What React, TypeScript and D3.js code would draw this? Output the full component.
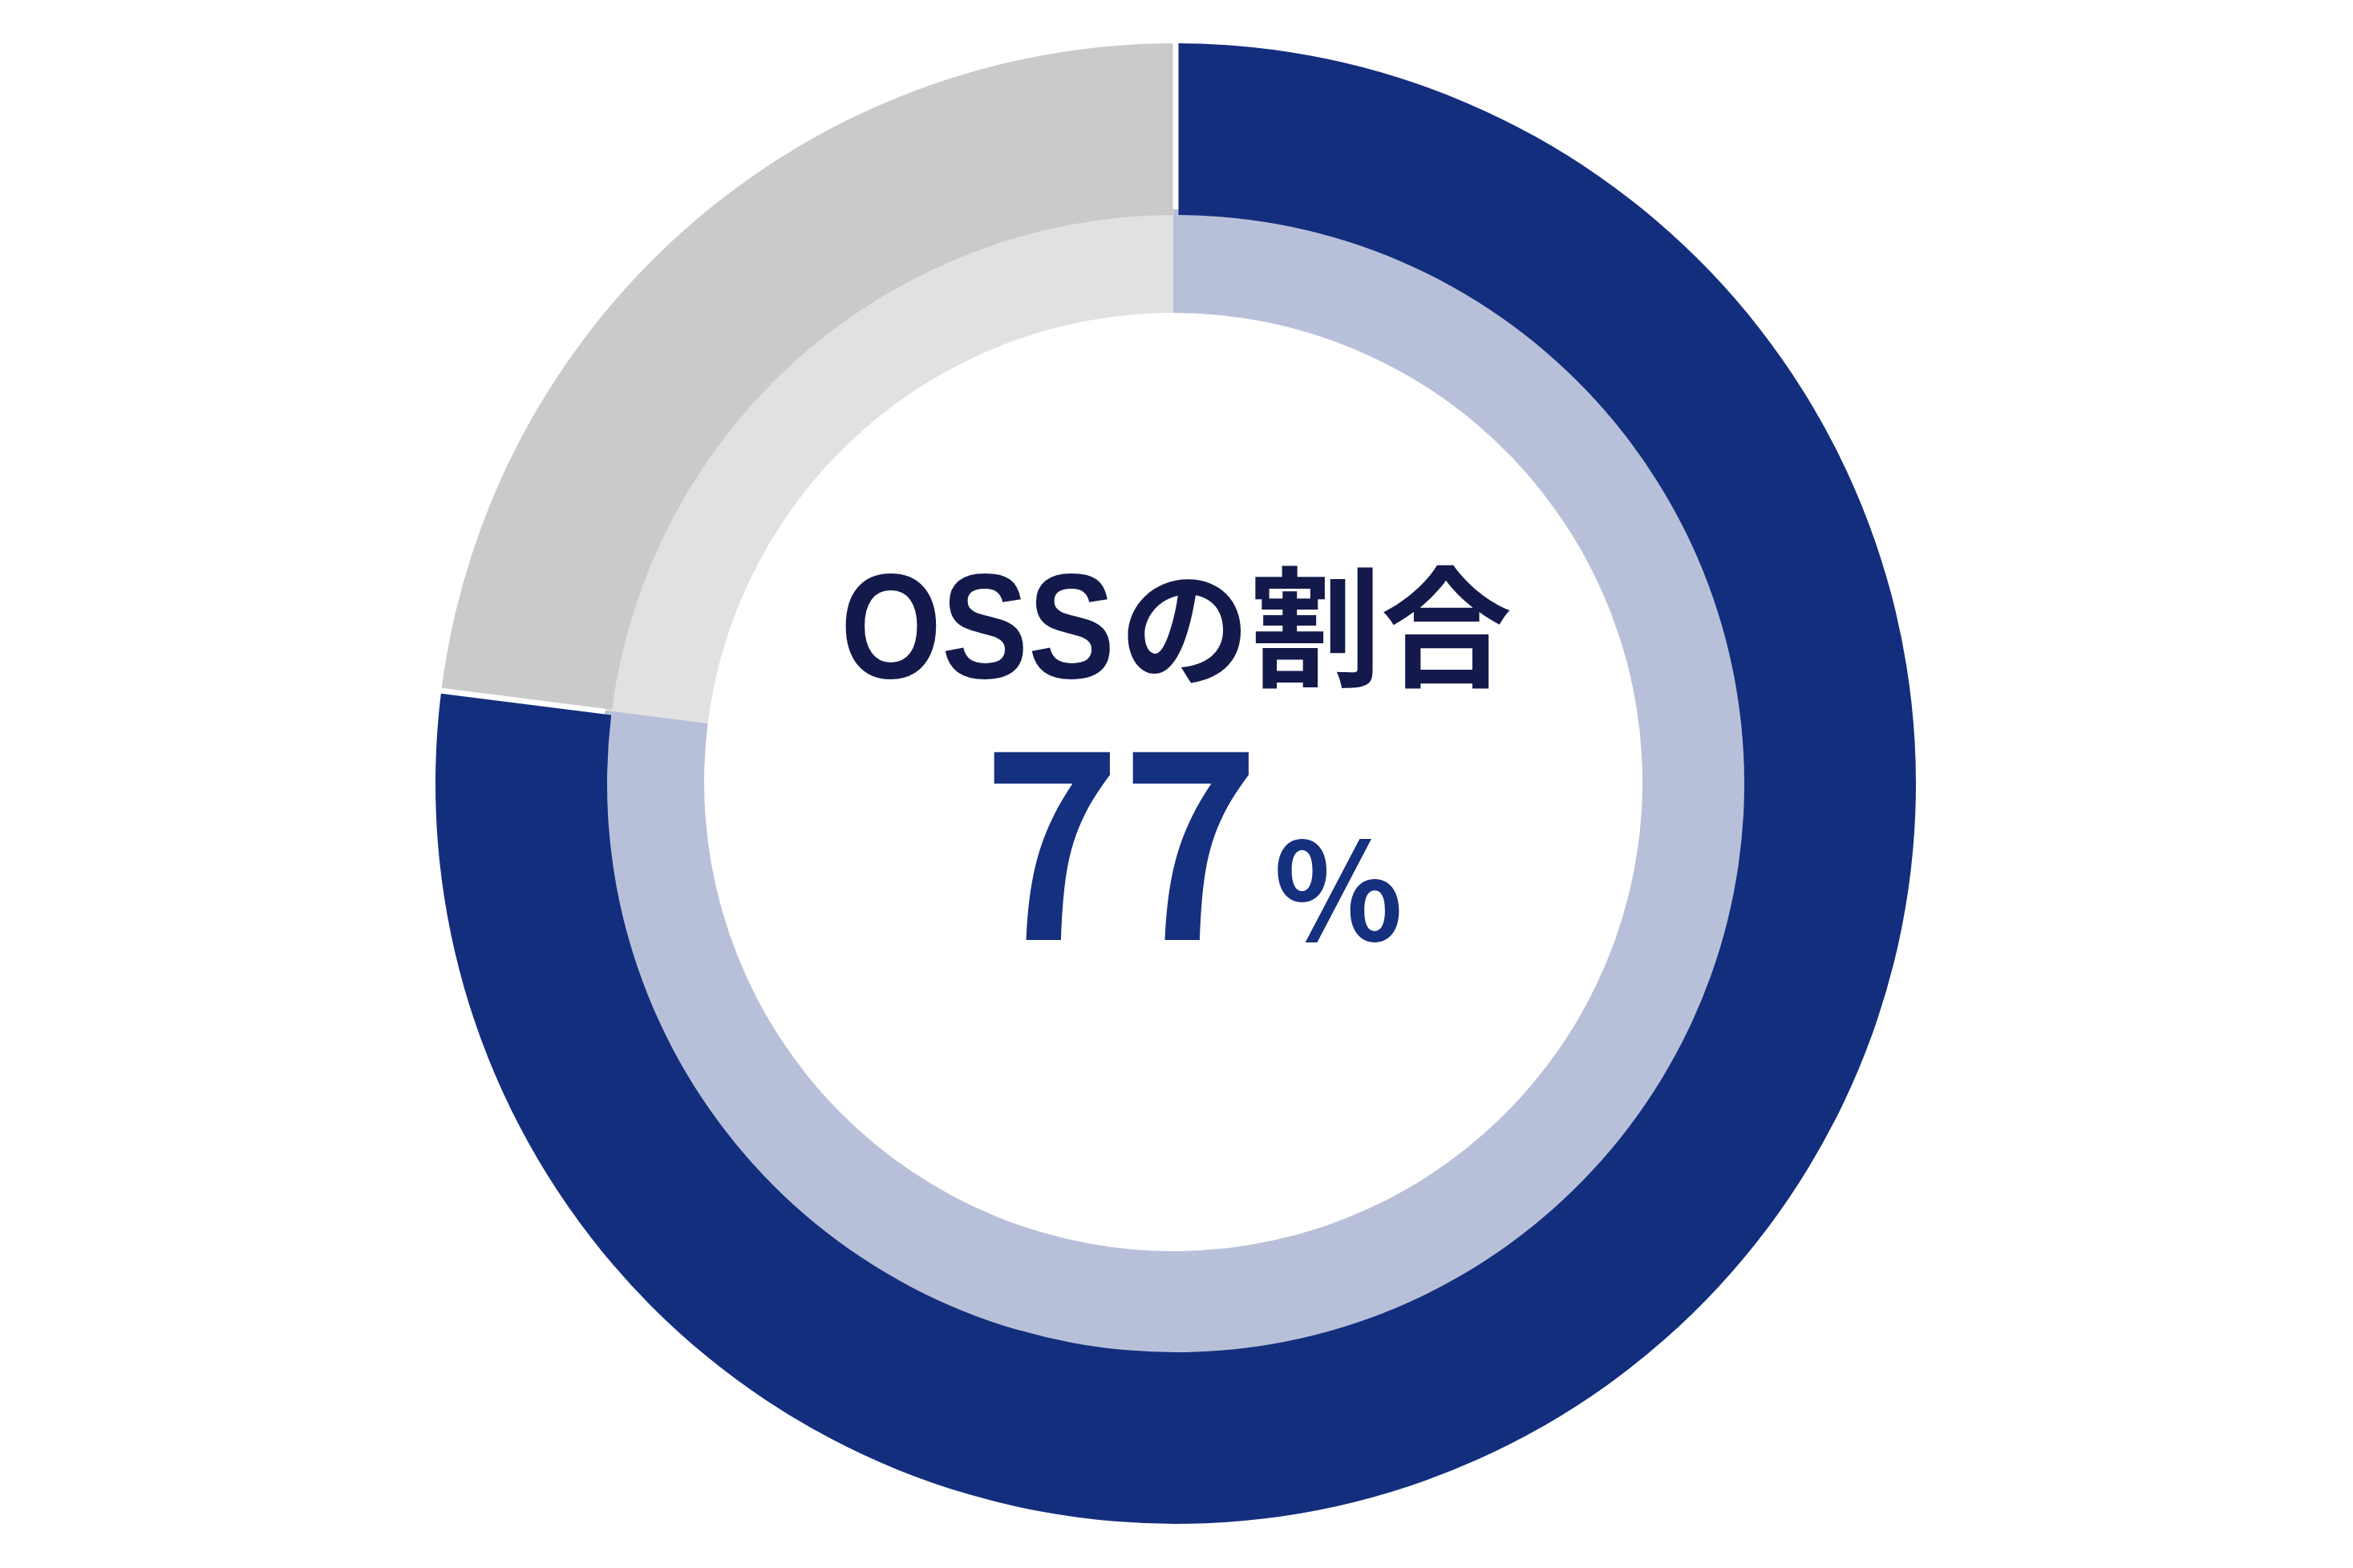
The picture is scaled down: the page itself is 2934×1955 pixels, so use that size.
import React, { useEffect, useRef } from "react";
import * as d3 from "d3";

// OSS share, two rings showing the same split
const categories = ["OSS", "その他"];
const shares = [77, 23];

const outerColors = ["#142e7e", "#cacaca"];
const innerColors = ["#b8c0d9", "#e1e1e1"];

const titleLatin = "OSS";
const titleKana = "の割合";
const valueText = "77";
const unitText = "%";

const App: React.FC = () => {
  const svgRef = useRef<SVGSVGElement>(null);

  useEffect(() => {
    document.body.style.margin = "0";
    if (!svgRef.current) return;

    const width = 2934;
    const height = 1955;

    const svg = d3.select(svgRef.current);
    svg.selectAll("*").remove();
    svg.attr("viewBox", `0 0 ${width} ${height}`);

    const data = categories.map((c, i) => ({ group: c, count: shares[i] }));

    const pie = d3
      .pie<{ group: string; count: number }>()
      .value((d) => d.count)
      .sort(null);

    const arcs = pie(data);

    const color = (palette: string[]) =>
      d3.scaleOrdinal<string, string>().domain(categories).range(palette);

    // inner (pale) ring, drawn first, its hole sits a little up-left
    const innerArc = d3
      .arc<d3.PieArcDatum<{ group: string; count: number }>>()
      .innerRadius(585)
      .outerRadius(714);

    svg
      .append("g")
      .attr("transform", "translate(1463, 975)")
      .selectAll("path")
      .data(arcs)
      .join("path")
      .attr("d", innerArc)
      .attr("fill", (d) => color(innerColors)(d.data.group));

    // outer ring, thin white gap between slices
    const outerArc = d3
      .arc<d3.PieArcDatum<{ group: string; count: number }>>()
      .innerRadius(709)
      .outerRadius(923)
      .padRadius(923)
      .padAngle(7 / 923);

    svg
      .append("g")
      .attr("transform", "translate(1466, 977)")
      .selectAll("path")
      .data(arcs)
      .join("path")
      .attr("d", outerArc)
      .attr("fill", (d) => color(outerColors)(d.data.group));

    // centre labels
    const latin = "'Liberation Sans', Arial, sans-serif";
    const cjk = "'Noto Sans CJK JP', 'Noto Sans', sans-serif";

    const title = svg
      .append("text")
      .attr("font-weight", 700)
      .attr("fill", "#131a4b");

    title
      .append("tspan")
      .attr("x", 1048)
      .attr("y", 845)
      .attr("font-family", latin)
      .attr("font-size", 186)
      .attr("textLength", 342)
      .attr("lengthAdjust", "spacingAndGlyphs")
      .text(titleLatin);

    title
      .append("tspan")
      .attr("x", 1396)
      .attr("y", 843)
      .attr("font-family", cjk)
      .attr("font-size", 163)
      .text(titleKana);

    const value = svg
      .append("text")
      .attr("font-family", cjk)
      .attr("font-weight", 700)
      .attr("fill", "#15307f");

    value
      .append("tspan")
      .attr("x", 1225)
      .attr("y", 1172)
      .attr("font-size", 316)
      .attr("textLength", 346)
      .attr("lengthAdjust", "spacingAndGlyphs")
      .text(valueText);

    value
      .append("tspan")
      .attr("x", 1588)
      .attr("y", 1173)
      .attr("font-size", 168)
      .text(unitText);
  }, []);

  return (
    <div style={{ width: 2934, height: 1955, background: "#fff" }}>
      <svg ref={svgRef} width={2934} height={1955} style={{ display: "block" }} />
    </div>
  );
};

export default App;
